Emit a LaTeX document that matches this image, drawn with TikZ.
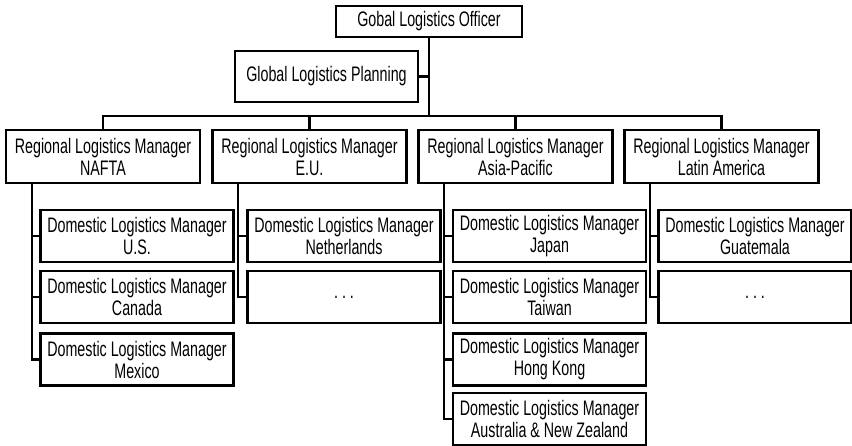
\documentclass[tikz,border=0pt]{standalone}
\usepackage{fontspec}
\setmainfont{Liberation Sans}[FakeStretch=0.68]
\usetikzlibrary{calc}
\begin{document}
\begin{tikzpicture}[x=1pt,y=-1pt,
  box/.style={draw, line width=2.6pt, inner sep=0pt, align=center,
    minimum width=193pt, minimum height=52pt,
    font=\fontsize{21}{22}\selectfont},
  regbox/.style={box, minimum width=194pt, minimum height=53pt},
  dombox/.style={box, minimum width=193pt, minimum height=52pt},
  link/.style={line width=2.4pt}]
\useasboundingbox (0,0) rectangle (852,446);

% head office and planning staff
\node[box, minimum width=186pt, minimum height=31pt] (glo) at (429,21.5) {Gobal Logistics Officer};
\node[box, minimum width=183pt, minimum height=51pt] (glp) at (326.5,76.5) {Global Logistics Planning};

% regional managers
\node[regbox] (nafta) at (103,156.5) {Regional Logistics Manager\\NAFTA};
\node[regbox] (eu)    at (309.5,156.5) {Regional Logistics Manager\\E.U.};
\node[regbox] (apac)  at (515.5,156.5) {Regional Logistics Manager\\Asia-Pacific};
\node[regbox] (latam) at (721.5,156.5) {Regional Logistics Manager\\Latin America};

% domestic managers
\node[dombox] (dus) at (137,236) {Domestic Logistics Manager\\U.S.};
\node[dombox] (dca) at (137,297) {Domestic Logistics Manager\\Canada};
\node[dombox] (dmx) at (137,359.5) {Domestic Logistics Manager\\Mexico};

\node[dombox] (dnl) at (344,236) {Domestic Logistics Manager\\Netherlands};
\node[dombox] (deu) at (344,297) {.\hspace{4pt}.\hspace{4pt}.};

\node[dombox] (djp) at (549.5,236) {Domestic Logistics Manager\\Japan};
\node[dombox] (dtw) at (549.5,297) {Domestic Logistics Manager\\Taiwan};
\node[dombox] (dhk) at (549.5,359.5) {Domestic Logistics Manager\\Hong Kong};
\node[dombox] (danz) at (549.5,419) {Domestic Logistics Manager\\Australia \& New Zealand};

\node[dombox] (dgt) at (755,236) {Domestic Logistics Manager\\Guatemala};
\node[dombox] (dla) at (755,297) {.\hspace{4pt}.\hspace{4pt}.};

% top-level links
\coordinate (bus) at (429,116);
\draw[link] (glo.south) -- (bus);
\draw[link] (glp.east) -- (glp.east -| bus);
\draw[link] (nafta.north) |- (bus) -| (latam.north);
\draw[link] (eu.north) -- (eu.north |- bus);
\draw[link] (apac.north) -- (apac.north |- bus);

% regional to domestic links
\path (nafta.south west) ++(27,0) coordinate (tn);
\path (eu.south west) ++(27,0) coordinate (te);
\path (apac.south west) ++(27,0) coordinate (ta);
\path (latam.south west) ++(27,0) coordinate (tl);

\foreach \d in {dus,dca,dmx} \draw[link] (tn) |- (\d.west);
\foreach \d in {dnl,deu} \draw[link] (te) |- (\d.west);
\foreach \d in {djp,dtw,dhk,danz} \draw[link] (ta) |- (\d.west);
\foreach \d in {dgt,dla} \draw[link] (tl) |- (\d.west);
\end{tikzpicture}
\end{document}
